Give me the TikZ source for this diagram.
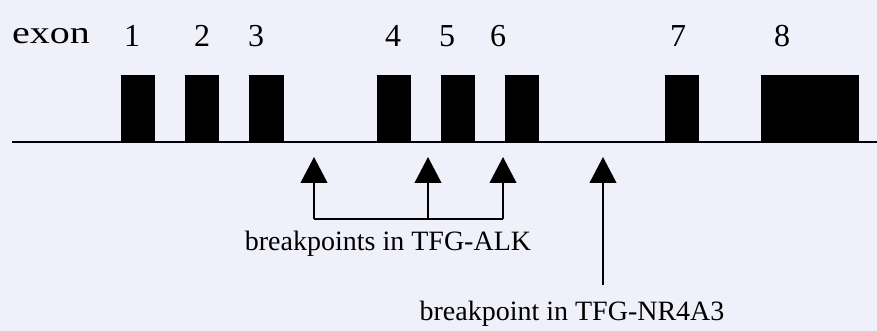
\documentclass[tikz,border=0pt]{standalone}
\usepackage{fontspec}
\setmainfont{Liberation Serif}
\usetikzlibrary{arrows.meta}
\definecolor{paper}{RGB}{239,240,250}
\tikzset{every picture/.style={line width=0.75pt}}
\tikzset{
  exonbox/.style={fill=black, draw=none, inner sep=0pt, minimum height=49.5pt, anchor=south west},
  exonnum/.style={inner sep=0.75pt, font=\fontsize{24}{28}\selectfont},
  bplabel/.style={inner sep=0.75pt, font=\fontsize{21}{25}\selectfont},
  bparrow/.style={line width=1.5pt, -{Triangle[length=19.5pt,width=20pt]}},
  bpline/.style={line width=1.5pt}
}

\begin{document}
\begin{tikzpicture}[x=0.75pt,y=0.75pt,yscale=-1,xscale=1]
  \useasboundingbox[fill=paper] (0,0) rectangle (877,331);

  % gene line
  \coordinate (gl) at (12,142);
  \coordinate (gr) at (877,142);
  \draw [line width=1.5pt] (gl) -- (gr);

  % Exons
  \node [exonbox, minimum width=25.5pt] (e1) at (120,142) {};
  \node [exonbox, minimum width=25.5pt] (e2) at (184,142) {};
  \node [exonbox, minimum width=26.25pt] (e3) at (248,142) {};
  \node [exonbox, minimum width=25.5pt] (e4) at (376,142) {};
  \node [exonbox, minimum width=25.5pt] (e5) at (440,142) {};
  \node [exonbox, minimum width=25.5pt] (e6) at (504,142) {};
  \node [exonbox, minimum width=25.5pt] (e7) at (664,142) {};
  \node [exonbox, minimum width=73.5pt] (e8) at (760,142) {};

  % Text Node
  \node [exonnum] (lexon) at (51,36) {\scalebox{1.25}[1]{exon}};
  \node [exonnum] (n1) at (132,36) {1};
  \node [exonnum] (n2) at (202,36) {2};
  \node [exonnum] (n3) at (256,36) {3};
  \node [exonnum] (n4) at (393,36) {4};
  \node [exonnum] (n5) at (447,36) {5};
  \node [exonnum] (n6) at (498,36) {6};
  \node [exonnum] (n7) at (678,36) {7};
  \node [exonnum] (n8) at (782,36) {8};

  % breakpoints TFG-ALK
  \coordinate (t1) at (314,157);
  \coordinate (t2) at (428,157);
  \coordinate (t3) at (503,157);
  \coordinate (b1) at (314,219);
  \coordinate (b2) at (428,219);
  \coordinate (b3) at (503,219);
  \draw [bpline] (b1) -- (b3);
  \draw [bparrow] (b1) -- (t1);
  \draw [bparrow] (b2) -- (t2);
  \draw [bparrow] (b3) -- (t3);
  \node [bplabel] (alk) at (388,244) {breakpoints in TFG-ALK};

  % breakpoint TFG-NR4A3
  \coordinate (t4) at (603,157);
  \coordinate (b4) at (603,285);
  \draw [bparrow] (b4) -- (t4);
  \node [bplabel] (nr) at (572,314) {breakpoint in TFG-NR4A3};
\end{tikzpicture}
\end{document}
